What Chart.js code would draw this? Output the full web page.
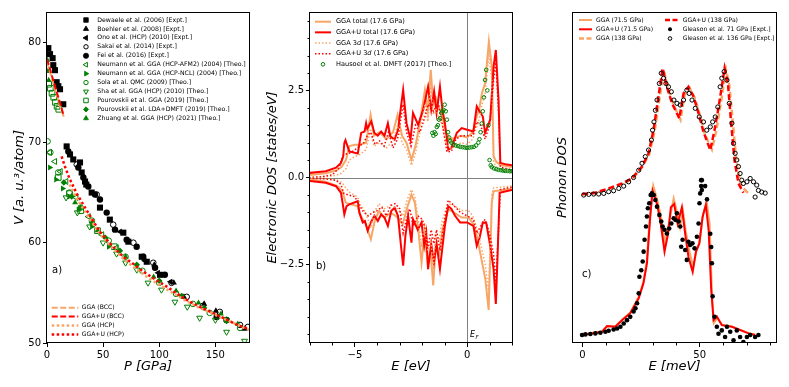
<!DOCTYPE html>
<html><head><meta charset="utf-8">
<script src="https://cdn.jsdelivr.net/npm/chart.js@4.4.1/dist/chart.umd.min.js"></script>
<style>
body{margin:0;background:#fff;width:789px;height:387px;overflow:hidden;position:relative}
canvas{position:absolute;top:0}
</style></head><body>
<canvas id="ca" width="262" height="387" style="left:0px"></canvas>
<canvas id="cb" width="265" height="387" style="left:262px"></canvas>
<canvas id="cc" width="262" height="387" style="left:527px"></canvas>
<script>
// ---------------- Panel a: equation of state ----------------
const dewP=[1.2,2.7,5.0,5.6,7.1,8.6,10.1,11.6,14.5,17.5,20.5,23.4,29.4,30.9,33.9,35,39.8,47.2,56,68,72.5,84.4,88.9,100.7];
const dewV=[79.4,78.8,78.4,77.7,77.2,76.0,75.6,75.3,73.8,69.6,68.8,68.3,68.0,67.0,66.1,65.8,65.0,63.5,62.3,61.0,60.1,58.6,58.1,56.8];
const boeP=[95.6,113,122,140,150.5,176];
const boeV=[57.8,56.0,54.6,53.9,53.2,51.4];
const onoP=[65,87,99,110];
const onoV=[61.1,58.2,57.0,56.1];
const sakP=[26.5,44.3,59,77,94.7,111,124.5,139,154,172,179];
const sakV=[67.8,64.8,61.8,60.0,58.0,56.0,54.6,53.7,53.1,51.8,51.6];
const feiP=[19,27.9,32.4,36.8,42.8,47.2,53.2,60.6,71,79.9,85.8,96.3,105,151.2,160];
const feiV=[69.1,67.5,66.5,65.6,64.8,64.3,63.0,61.3,60.3,59.6,58.6,57.5,56.8,52.6,52.3];
const nAfmP=[2.5,7,12,17,26,37,49,62];
const nAfmV=[69.0,68.1,67.1,66.1,64.5,62.6,60.8,59.5];
const nNclP=[2.5,8,14,20,28,40,55];
const nNclV=[67.5,66.3,65.4,64.6,63.3,61.6,59.6];
const solaP=[0.5,3,10,20,30,40,55,70,85,100,115,130,145,160,172];
const solaV=[70.1,69.0,67.0,65.0,63.5,62.2,60.2,58.6,57.2,56.0,54.9,53.9,53.0,52.3,51.5];
const shaP=[17,27,38,50,62,70,80,90,102,114,125,136,150,160,176];
const shaV=[64.5,63.0,61.6,60.0,58.9,58.0,57.3,56.0,55.3,54.1,53.6,52.5,52.3,51.1,50.2];
const pouGP=[1.5,3,4.5,6,7.5,9,10.5,10,20,30,45,60];
const pouGV=[75.8,75.4,74.9,74.5,74.0,73.6,73.3,66.5,64.9,63.2,61.2,59.6];
const pouDP=[15,22,30,40,52,65,80,100,120,140,160];
const pouDV=[66.0,64.6,63.5,62.0,60.5,59.2,57.8,56.2,54.7,53.5,52.2];
const zhuP=[0.3,0.8,1.5,25,45,70,95,115,135,155,170];
const zhuV=[78.2,77.1,76.2,64.0,61.2,58.6,56.6,55.2,54.0,52.9,51.9];
const ggaBccP=[0,3,6,9,12,15.5];
const ggaBccV=[78.0,76.9,75.7,74.6,73.5,72.4];
const ggauBccP=[0,3,6,9,12,14.5];
const ggauBccV=[78.3,77.2,76.0,74.9,73.8,72.8];
const ggaHcpP=[20,26,35,47,58,68,78,90,100,112,124,136,148,160,172,180];
const ggaHcpV=[65.8,64.5,62.9,60.9,59.5,58.4,57.5,56.5,55.8,55.0,54.2,53.5,52.9,52.3,51.7,51.3];
const ggauHcpP=[13,16,20,26.5,35,47,58,68,78,86,97,107,116,124.5,136,148,157,166,172,180];
const ggauHcpV=[68.6,67.6,66.4,64.9,63.3,61.1,59.7,58.6,57.8,57.1,56.3,55.6,54.9,54.3,53.6,53.0,52.5,52.0,51.7,51.4];
const eosXTicks=[0,50,100,150];
const eosYTicks=[50,60,70,80];

// ---------------- Panel b: electronic DOS ----------------
const upUE=[-7.04,-6.3,-5.84,-5.62,-5.52,-5.47,-5.42,-5.25,-4.87,-4.72,-4.57,-4.5,-4.45,-4.27,-4.13,-3.98,-3.83,-3.68,-3.53,-3.42,-3.23,-3.08,-2.85,-2.7,-2.52,-2.41,-2.18,-1.96,-1.74,-1.6,-1.47,-1.36,-1.21,-1.1,-0.99,-0.84,-0.7,-0.46,-0.24,0,0.28,0.43,0.55,0.7,0.8,1.03,1.18,1.28,1.4,1.48,1.78,2.0];
const upUD=[0.13,0.18,0.28,0.42,0.61,0.99,1.07,0.75,0.69,1.28,1.32,1.56,1.4,1.61,1.28,1.2,1.32,1.2,1.56,1.18,1.09,1.37,2.51,1.56,1.09,1.85,1.51,1.94,2.61,1.94,2.47,1.85,2.61,1.94,1.56,0.8,0.85,1.28,1.42,1.37,1.32,2.04,1.9,1.75,1.28,1.66,3.18,3.66,2.23,0.42,0.37,0.35];
const upGE=[-7.04,-6.3,-5.84,-5.6,-5.4,-5.25,-5.0,-4.8,-4.5,-4.3,-4.15,-3.9,-3.6,-3.3,-3.1,-2.9,-2.7,-2.48,-2.3,-2.1,-1.88,-1.75,-1.62,-1.51,-1.4,-1.25,-1.1,-0.95,-0.76,-0.5,-0.27,0,0.25,0.43,0.55,0.66,0.8,0.97,1.1,1.18,1.3,1.48,1.8,2.0];
const upGD=[0.07,0.12,0.2,0.3,0.5,0.9,0.94,0.94,1.0,1.8,1.2,1.3,1.1,1.3,1.8,1.2,1.0,0.51,0.9,1.6,2.51,1.9,3.09,2.1,2.3,2.0,1.8,1.3,1.09,1.15,1.2,1.15,1.3,1.75,2.0,2.42,2.7,3.9,3.18,0.61,0.45,0.36,0.32,0.3];
const upUdE=[-7.04,-6.5,-6.0,-5.7,-5.6,-5.5,-5.19,-4.89,-4.6,-4.45,-4.3,-4.1,-3.9,-3.7,-3.5,-3.3,-3.1,-2.85,-2.7,-2.5,-2.3,-2.1,-1.9,-1.74,-1.5,-1.3,-1.15,-0.99,-0.9,-0.7,-0.5,-0.25,0,0.25,0.43,0.6,0.8,1.0,1.18,1.28,1.4,1.48,1.8,2.0];
const upUdD=[0.0,0.02,0.08,0.28,0.51,0.65,0.71,0.85,1.0,1.2,1.3,0.95,1.05,0.9,1.3,0.85,1.1,2.1,1.3,0.9,1.5,1.3,1.7,2.1,1.9,2.15,1.7,1.1,0.73,0.75,1.1,1.2,1.2,1.2,1.6,1.5,1.1,1.5,2.8,3.3,1.9,0.3,0.25,0.22];
const upGdD=[0.0,0.02,0.06,0.12,0.25,0.5,0.6,0.65,0.8,1.4,0.9,1.0,0.85,1.05,1.5,1.0,0.8,0.35,0.7,1.3,2.1,1.6,2.6,1.8,2.0,1.7,1.5,1.0,0.85,0.9,1.0,0.95,1.1,1.45,1.7,2.1,2.4,3.5,2.8,0.45,0.3,0.22,0.18,0.16];
const dmftE=[-1.55,-1.5,-1.45,-1.4,-1.35,-1.3,-1.25,-1.2,-1.15,-1.1,-1.05,-1.0,-0.95,-0.9,-0.85,-0.8,-0.75,-0.7,-0.6,-0.5,-0.4,-0.3,-0.2,-0.1,0,0.1,0.2,0.3,0.4,0.5,0.55,0.6,0.65,0.7,0.75,0.8,0.85,0.9,0.95,1.0,1.05,1.1,1.2,1.3,1.4,1.5,1.6,1.7,1.8,1.9,2.0];
const dmftD=[1.28,1.2,1.3,1.25,1.45,1.5,1.66,1.7,1.85,1.9,1.94,2.09,1.9,1.66,1.3,1.15,1.05,1.0,0.95,0.92,0.9,0.88,0.87,0.86,0.85,0.86,0.87,0.88,0.92,1.0,1.1,1.3,1.55,1.9,2.3,2.8,3.09,2.5,1.5,0.5,0.35,0.3,0.26,0.24,0.22,0.21,0.2,0.19,0.19,0.18,0.18];
const dnUE=[-7.04,-6.3,-5.84,-5.62,-5.55,-5.47,-5.37,-5.25,-4.87,-4.8,-4.65,-4.55,-4.43,-4.3,-4.13,-3.98,-3.83,-3.68,-3.53,-3.38,-3.23,-3.08,-2.93,-2.85,-2.75,-2.63,-2.48,-2.41,-2.2,-2.03,-1.91,-1.82,-1.74,-1.6,-1.48,-1.36,-1.21,-1.1,-0.99,-0.84,-0.7,-0.54,-0.31,0,0.28,0.43,0.55,0.7,0.85,1.03,1.18,1.28,1.36,1.45,1.78,2.0];
const dnUD=[-0.1,-0.15,-0.25,-0.44,-0.72,-1.06,-0.82,-0.77,-0.68,-1.01,-1.29,-1.25,-1.53,-1.3,-1.1,-1.25,-1.06,-1.15,-1.39,-0.96,-0.87,-1.1,-2.06,-2.53,-1.68,-1.1,-1.87,-1.2,-1.5,-1.29,-1.96,-1.6,-2.63,-1.9,-2.44,-1.9,-2.63,-2.0,-1.39,-0.82,-0.9,-1.1,-1.29,-1.29,-1.39,-1.96,-1.75,-1.29,-1.3,-1.96,-2.63,-3.63,-2.2,-0.44,-0.39,-0.36];
const dnGE=[-7.04,-6.3,-5.78,-5.56,-5.41,-5.19,-4.89,-4.74,-4.52,-4.29,-4.1,-3.92,-3.7,-3.39,-3.1,-2.87,-2.65,-2.48,-2.33,-2.18,-2.03,-1.9,-1.75,-1.62,-1.51,-1.4,-1.25,-1.1,-0.84,-0.6,-0.24,0.06,0.25,0.43,0.58,0.81,0.96,1.1,1.18,1.48,1.8,2.0];
const dnGD=[-0.05,-0.12,-0.25,-0.39,-0.72,-0.77,-0.82,-1.1,-1.34,-1.77,-1.2,-0.96,-1.15,-1.01,-1.15,-1.34,-0.82,-0.49,-0.72,-1.49,-2.44,-1.6,-2.5,-2.2,-3.1,-2.0,-2.2,-1.5,-0.91,-1.0,-1.15,-1.15,-1.3,-1.68,-2.15,-2.91,-3.8,-0.72,-0.39,-0.37,-0.34,-0.33];
const dnUdE=[-7.04,-6.3,-5.84,-5.62,-5.5,-5.3,-5.0,-4.8,-4.6,-4.4,-4.2,-4.0,-3.8,-3.6,-3.4,-3.2,-3.0,-2.85,-2.7,-2.55,-2.4,-2.2,-2.0,-1.85,-1.74,-1.6,-1.48,-1.36,-1.21,-1.0,-0.84,-0.6,-0.3,0,0.28,0.43,0.6,0.8,1.0,1.18,1.28,1.4,1.48,1.8,2.0];
const dnUdD=[-0.02,-0.04,-0.08,-0.2,-0.45,-0.5,-0.55,-0.8,-1.0,-1.1,-1.0,-0.95,-0.85,-1.1,-0.8,-0.75,-0.9,-1.6,-1.2,-0.9,-1.4,-1.1,-1.2,-1.5,-2.0,-1.5,-1.9,-1.5,-2.1,-1.2,-0.65,-0.8,-1.0,-1.1,-1.2,-1.6,-1.4,-1.2,-1.6,-2.2,-3.0,-1.5,-0.35,-0.3,-0.28];
const dnGdD=[0.0,-0.03,-0.08,-0.15,-0.3,-0.45,-0.55,-0.8,-1.0,-1.45,-0.95,-0.75,-0.9,-0.8,-0.9,-1.1,-0.6,-0.35,-0.55,-1.2,-2.0,-1.3,-2.1,-1.8,-2.6,-1.6,-1.8,-1.2,-0.75,-0.8,-0.95,-0.95,-1.1,-1.45,-1.85,-2.5,-3.3,-0.5,-0.3,-0.28,-0.26,-0.25];
const dosXTicks=[-5,0];
const dosXMinor=[-7,-6,-4,-3,-2,-1,1,2];
const dosYTicks=[-2.5,0,2.5];
const dosYMinor=[-4.5,-4,-3.5,-3,-2,-1.5,-1,-0.5,0.5,1,1.5,2,3,3.5,4,4.5];

// ---------------- Panel c: phonon DOS ----------------
const phUlE=[-0.1,4.1,8.4,10.5,14,16.9,20.4,24,26,27.5,28.2,29,29.9,31.8,33.2,35,36.5,37.7,39.1,40.6,42.4,43.8,45.2,47,48.4,49.8,51.2,52.6,53.8,54.9,55.9,57.3,59.4,63.7,70.8,73.6];
const phUlY=[0.24,0.29,0.34,0.51,0.49,0.69,0.9,1.35,1.8,2.4,3.1,3.9,4.6,4.2,3.7,2.76,3.3,4.1,4.2,3.6,4.1,3.3,2.6,2.15,2.76,3.0,3.8,4.17,3.4,1.6,0.69,0.8,0.54,0.49,0.29,0.24];
const phGlE=[-0.1,4.1,8.4,10.5,14,16.9,20.4,24,26,27.5,28.5,30.2,32,33.5,35.2,36.8,38.9,40.2,41.6,42.8,44,45.5,47.2,48.6,50,51.4,53,54.2,55.2,56,57.5,59.6,63.7,70.8,73.6];
const phGlY=[0.25,0.3,0.35,0.5,0.5,0.7,0.92,1.4,1.85,2.5,3.6,4.75,4.3,3.8,3.0,3.6,4.37,4.0,3.5,4.0,3.4,2.8,2.3,2.8,3.05,3.9,4.25,3.6,1.5,0.6,0.75,0.55,0.5,0.3,0.25];
const phUhE=[-0.1,5.5,11.2,16.9,21.1,25.4,28.2,30.3,32.2,34.2,36,38.2,41.3,43.1,45.2,47.4,49.5,51.6,54.5,56.3,57.7,59.4,60.6,62,63.4,64.8,66.5,68.6];
const phUhY=[4.5,4.54,4.67,4.82,4.97,5.33,5.73,6.43,7.34,8.3,7.74,7.24,6.79,7.54,7.74,7.44,6.94,6.38,5.83,6.43,6.99,7.74,8.3,7.85,6.64,5.53,4.82,4.54];
const phGhE=[-0.1,5.5,11.2,16.9,21.1,25.4,28.5,30.8,32.7,34.6,36.5,38.8,41.8,43.6,45.7,47.9,50,52.2,55.2,57,58.3,60,61.2,62.6,64.2,65.6,67.5,71];
const phGhY=[4.48,4.52,4.65,4.8,4.95,5.3,5.7,6.4,7.3,8.25,7.7,7.2,6.75,7.5,7.7,7.4,6.9,6.3,5.85,6.4,6.95,7.7,8.25,7.8,6.6,5.5,4.75,4.5];
const gl71E=[-0.14,1.28,3.4,5.53,7.66,9.79,11.2,13.3,14.8,16.2,17.6,19.0,20.4,21.8,22.6,23.3,24.0,24.3,25.1,25.7,26.1,26.5,27.1,27.5,27.9,28.5,29.1,29.6,30.4,31.1,31.8,32.8,33.6,34.2,35.0,36.0,37.0,37.9,38.9,39.6,40.3,41.0,41.7,42.1,42.7,43.8,44.5,45.2,45.9,46.9,47.8,48.8,49.5,49.9,50.2,50.6,50.9,50.6,52.3,50.9,53.1,54.5,54.9,55.2,55.5,56.3,57.3,58.0,59.4,60.8,61.6,63.0,64.4,65.8,67.2,68.6,70.1,71.5,73.6,75.0];
const gl71Y=[0.24,0.26,0.27,0.29,0.31,0.34,0.37,0.41,0.44,0.49,0.59,0.69,0.79,0.95,1.05,1.2,1.5,2.0,2.2,2.46,2.76,3.12,3.52,3.82,4.07,4.22,4.47,4.52,4.47,4.32,4.12,3.87,3.67,3.52,3.42,3.31,3.46,3.61,3.77,3.72,3.92,3.67,3.52,2.91,3.12,2.81,2.51,3.06,2.96,3.01,2.86,3.21,3.61,4.22,4.52,4.92,4.92,4.74,4.74,4.62,4.34,3.3,2.9,2.41,1.41,0.79,0.49,0.28,0.38,0.18,0.49,0.34,0.08,0.38,0.18,0.03,0.18,0.24,0.18,0.24];
const gl136E=[0.57,2.7,4.8,6.95,9.1,11.2,13.3,15.5,17.6,19.7,21.8,24.0,25.4,26.8,28.2,29.4,29.9,30.5,31.1,31.8,32.8,33.6,34.6,35.6,36.7,37.9,39.0,40.3,41.7,43.1,44.5,45.5,46.7,48.1,49.8,51.6,53.0,54.5,55.5,56.6,57.7,58.7,59.4,60.4,61.6,62.6,63.7,64.4,65.1,65.8,66.5,67.2,67.9,68.6,70.1,71.5,72.9,74.3,75.0,76.4,77.9,73.6];
const gl136Y=[4.47,4.49,4.5,4.5,4.52,4.57,4.6,4.67,4.74,4.87,5.0,5.22,5.43,5.63,5.83,6.13,6.43,6.68,7.03,7.34,7.84,8.15,8.0,7.84,7.74,7.59,7.34,7.24,7.19,7.34,7.64,7.54,7.34,7.09,6.83,6.68,6.43,6.53,6.68,6.83,7.13,7.74,8.0,8.2,7.94,7.24,6.64,6.03,5.73,5.53,5.33,5.12,4.92,4.82,4.87,4.97,4.87,4.77,4.61,4.56,4.53,4.41];
const phXTicks=[0,50];
const phXMinor=[10,20,30,40,60,70,80];

// ---------------- helpers ----------------
const ORANGE='#F8A667', RED='#FF0000', GREEN='#008000', BLACK='#000000', NONE='rgba(0,0,0,0)';
const FONT='"DejaVu Sans", sans-serif';
Chart.defaults.font.family=FONT;
Chart.defaults.color='#000';
function pts(xs,ys){return xs.map((x,i)=>({x:x,y:ys[i]}));}
function sc(label,xs,ys,style,rot,r,fill,stroke,bw){
  return {label,data:pts(xs,ys),showLine:false,pointStyle:style,pointRotation:rot,pointRadius:r,
    pointBackgroundColor:fill,pointBorderColor:stroke,pointBorderWidth:bw};
}
function ln(label,xs,ys,color,w,dash){
  return {label,data:pts(xs,ys),showLine:true,pointRadius:0,borderColor:color,borderWidth:w,
    borderDash:dash||[],tension:0,fill:false,borderCapStyle:'butt'};
}
function ordered(list){list.forEach((d,i)=>d.order=-i);return list;}
const fmtNum=v=>(v<0?'\u2212':'')+String(Math.abs(v));
function axis(o){
  return {type:'linear',min:o.min,max:o.max,
    afterFit(s){ if(o.h!==undefined) s.height=o.h; if(o.w!==undefined) s.width=o.w; },
    afterBuildTicks(s){ s.ticks=(o.ticks||[]).map(v=>({value:v})); },
    grid:{display:o.noTicks?false:true,drawOnChartArea:false,drawTicks:true,tickLength:4,color:'#000',tickColor:'#000',lineWidth:1},
    border:{display:false},
    ticks:{display:o.noTicks?false:true,autoSkip:false,maxRotation:0,minRotation:0,padding:2,color:'#000',font:{size:10,family:FONT},callback:o.cb||fmtNum},
    title:{display:true,text:o.title,color:'#000',font:{size:13,style:'italic',family:FONT},padding:o.tpad}
  };
}
const framePlugin={id:'frame',afterDatasetsDraw(c){const a=c.chartArea,x=c.ctx;x.save();x.strokeStyle='#000';x.lineWidth=1;
  x.strokeRect(Math.round(a.left)-0.5,Math.round(a.top)+0.5,Math.round(a.right-a.left)+1,Math.round(a.bottom-a.top)-1);x.restore();}};
function minorTicks(xs,ys){return {id:'minor',afterDraw(c){const ctx=c.ctx,a=c.chartArea;ctx.save();ctx.strokeStyle='#000';ctx.lineWidth=1;ctx.beginPath();
  (xs||[]).forEach(v=>{const p=Math.round(c.scales.x.getPixelForValue(v))+0.5;ctx.moveTo(p,a.bottom);ctx.lineTo(p,a.bottom+2.5);});
  (ys||[]).forEach(v=>{const p=Math.round(c.scales.y.getPixelForValue(v))+0.5;ctx.moveTo(a.left,p);ctx.lineTo(a.left-2.5,p);});
  ctx.stroke();ctx.restore();}};}
function txt(ctx,x,y,parts,size){
  let cx=x;ctx.textBaseline='middle';ctx.textAlign='left';ctx.fillStyle='#000';
  for(const p of parts){ctx.font=(p[1]?'italic ':'')+size+'px '+FONT;ctx.fillText(p[0],cx,y);cx+=ctx.measureText(p[0]).width;}
}
function lgLine(ctx,x1,x2,y,color,w,dash){ctx.save();ctx.strokeStyle=color;ctx.lineWidth=w;ctx.setLineDash(dash||[]);ctx.beginPath();ctx.moveTo(x1,y);ctx.lineTo(x2,y);ctx.stroke();ctx.restore();}
function lgMark(ctx,x,y,style,rot,r,fill,stroke,bw){ctx.save();ctx.fillStyle=fill;ctx.strokeStyle=stroke;ctx.lineWidth=bw;
  Chart.helpers.drawPoint(ctx,{pointStyle:style,rotation:rot,radius:r,borderWidth:bw},x,y);ctx.restore();}
const baseOpts={responsive:false,animation:false,devicePixelRatio:1,events:[],
  plugins:{legend:{display:false},tooltip:{enabled:false}}};

// ---------------- Chart a ----------------
const legA=[
 ['Dewaele et al. (2006) [Expt.]','rect',0,3.2,BLACK,BLACK],
 ['Boehler et al. (2008) [Expt.]','triangle',0,3,BLACK,BLACK],
 ['Ono et al. (HCP) (2010) [Expt.]','triangle',-90,3,BLACK,BLACK],
 ['Sakai et al. (2014) [Expt.]','circle',0,2.2,NONE,BLACK],
 ['Fei et al. (2016) [Expt.]','circle',0,2.6,BLACK,BLACK],
 ['Neumann et al. GGA (HCP-AFM2) (2004) [Theo.]','triangle',-90,2.8,NONE,GREEN],
 ['Neumann et al. GGA (HCP-NCL) (2004) [Theo.]','triangle',90,2.8,GREEN,GREEN],
 ['Sola et al. QMC (2009) [Theo.]','circle',0,2.2,NONE,GREEN],
 ['Sha et al. GGA (HCP) (2010) [Theo.]','triangle',180,2.8,NONE,GREEN],
 ['Pourovskii et al. GGA (2019) [Theo.]','rect',0,3.2,NONE,GREEN],
 ['Pourovskii et al. LDA+DMFT (2019) [Theo.]','rectRot',0,2.6,GREEN,GREEN],
 ['Zhuang et al. GGA (HCP) (2021) [Theo.]','triangle',0,2.8,GREEN,GREEN]
];
const legA2=[['GGA (BCC)',ORANGE,2,[6,2.5]],['GGA+U (BCC)',RED,2,[6,2.5]],['GGA (HCP)',ORANGE,2.5,[2.5,2.5]],['GGA+U (HCP)',RED,2.5,[2.5,2.5]]];
const decoA={id:'decoA',afterDraw(c){const ctx=c.ctx;
  legA.forEach((e,i)=>{const y=20+i*8.94;lgMark(ctx,86,y,e[1],e[2],e[3],e[4],e[5],e[4]===NONE?1:0.8);txt(ctx,97.3,y,[[e[0],false]],6.2);});
  legA2.forEach((e,i)=>{const y=307.7+i*8.9;lgLine(ctx,51.7,78.3,y,e[1],e[2],e[3]);txt(ctx,81.7,y,[[e[0],false]],6.1);});
  txt(ctx,52,270,[['a)',false]],10);
}};
new Chart(document.getElementById('ca'),{type:'scatter',
 data:{datasets:ordered([
  sc('Dewaele',dewP,dewV,'rect',0,4.3,BLACK,BLACK,0),
  sc('Boehler',boeP,boeV,'triangle',0,3.6,BLACK,BLACK,0),
  sc('Ono',onoP,onoV,'triangle',-90,3.6,BLACK,BLACK,0),
  sc('Sakai',sakP,sakV,'circle',0,2.8,NONE,BLACK,1),
  sc('Fei',feiP,feiV,'circle',0,3.2,BLACK,BLACK,0),
  sc('NeumannAFM2',nAfmP,nAfmV,'triangle',-90,3.4,NONE,GREEN,1),
  sc('NeumannNCL',nNclP,nNclV,'triangle',90,3.4,GREEN,GREEN,0),
  sc('Sola',solaP,solaV,'circle',0,2.8,NONE,GREEN,1),
  sc('Sha',shaP,shaV,'triangle',180,3.4,NONE,GREEN,1),
  sc('PourovskiiGGA',pouGP,pouGV,'rect',0,4.0,NONE,GREEN,1),
  sc('PourovskiiDMFT',pouDP,pouDV,'rectRot',0,3.2,GREEN,GREEN,0),
  sc('Zhuang',zhuP,zhuV,'triangle',0,3.4,GREEN,GREEN,0),
  ln('GGA (BCC)',ggaBccP,ggaBccV,ORANGE,2,[6,2.5]),
  ln('GGA+U (BCC)',ggauBccP,ggauBccV,RED,2,[6,2.5]),
  ln('GGA (HCP)',ggaHcpP,ggaHcpV,ORANGE,2.5,[2.5,2.5]),
  ln('GGA+U (HCP)',ggauHcpP,ggauHcpV,RED,2.5,[2.5,2.5])
 ])},
 options:Object.assign({},baseOpts,{layout:{padding:{left:0,right:13,top:12,bottom:0}},
  scales:{
   x:axis({min:0,max:180,ticks:eosXTicks,h:44,title:'P [GPa]',tpad:{bottom:13}}),
   y:axis({min:50,max:83,ticks:eosYTicks,w:47,title:'V [a. u.\u00B3/atom]',tpad:{top:12}})
  }}),
 plugins:[framePlugin,decoA]
});

// ---------------- Chart b ----------------
const zeroLines={id:'zeroLines',beforeDatasetsDraw(c){const ctx=c.ctx,a=c.chartArea,xs=c.scales.x,ys=c.scales.y;
  const x0=Math.round(xs.getPixelForValue(0))+0.5,y0=Math.round(ys.getPixelForValue(0))+0.5;
  ctx.save();ctx.strokeStyle='#808080';ctx.lineWidth=1;ctx.beginPath();
  ctx.moveTo(x0,a.top);ctx.lineTo(x0,a.bottom);ctx.moveTo(a.left,y0);ctx.lineTo(a.right,y0);ctx.stroke();ctx.restore();}};
const decoB={id:'decoB',afterDraw(c){const ctx=c.ctx;const y0=21.7,dy=10.65;
  lgLine(ctx,53,69,y0,ORANGE,2);txt(ctx,74,y0,[['GGA total (17.6 GPa)',false]],6.6);
  lgLine(ctx,53,69,y0+dy,RED,2);txt(ctx,74,y0+dy,[['GGA+U total (17.6 GPa)',false]],6.6);
  lgLine(ctx,53,69,y0+2*dy,ORANGE,1.5,[1.5,2]);txt(ctx,74,y0+2*dy,[['GGA 3',false],['d',true],[' (17.6 GPa)',false]],6.6);
  lgLine(ctx,53,69,y0+3*dy,RED,1.5,[1.5,2]);txt(ctx,74,y0+3*dy,[['GGA+U 3',false],['d',true],[' (17.6 GPa)',false]],6.6);
  lgMark(ctx,61,y0+4*dy,'circle',0,1.8,NONE,GREEN,1);txt(ctx,74,y0+4*dy,[['Hausoel et al. DMFT (2017) [Theo.]',false]],6.6);
  txt(ctx,54,266,[['b)',false]],10);
  const xe=c.scales.x.getPixelForValue(0)+3;
  txt(ctx,xe,335,[['E',true]],8);txt(ctx,xe+5.3,337.5,[['F',true]],5.5);
}};
new Chart(document.getElementById('cb'),{type:'scatter',
 data:{datasets:ordered([
  ln('GGA total up',upGE,upGD,ORANGE,2),
  ln('GGA+U total up',upUE,upUD,RED,2),
  ln('GGA 3d up',upGE,upGdD,ORANGE,1.5,[1.5,2]),
  ln('GGA+U 3d up',upUdE,upUdD,RED,1.5,[1.5,2]),
  ln('GGA total dn',dnGE,dnGD,ORANGE,2),
  ln('GGA+U total dn',dnUE,dnUD,RED,2),
  ln('GGA 3d dn',dnGE,dnGdD,ORANGE,1.5,[1.5,2]),
  ln('GGA+U 3d dn',dnUdE,dnUdD,RED,1.5,[1.5,2]),
  sc('Hausoel DMFT',dmftE,dmftD,'circle',0,1.8,NONE,GREEN,1)
 ])},
 options:Object.assign({},baseOpts,{layout:{padding:{left:0,right:15,top:12,bottom:0}},
  scales:{
   x:axis({min:-7,max:2,ticks:dosXTicks,h:44,title:'E [eV]',tpad:{bottom:13}}),
   y:axis({min:-4.75,max:4.75,ticks:dosYTicks,w:48,cb:v=>(v<0?'\u2212':'')+Math.abs(v).toFixed(1),title:'Electronic DOS [states/eV]',tpad:{top:3}})
  }}),
 plugins:[zeroLines,framePlugin,minorTicks(dosXMinor,dosYMinor),decoB]
});

// ---------------- Chart c ----------------
const decoC={id:'decoC',afterDraw(c){const ctx=c.ctx;const ys=[20,29.3,38.5];
  lgLine(ctx,52,65,ys[0],ORANGE,2);txt(ctx,69,ys[0],[['GGA (71.5 GPa)',false]],6.1);
  lgLine(ctx,52,65,ys[1],RED,2);txt(ctx,69,ys[1],[['GGA+U (71.5 GPa)',false]],6.1);
  lgLine(ctx,52,65,ys[2],ORANGE,2.5,[5,2.5]);txt(ctx,69,ys[2],[['GGA (138 GPa)',false]],6.1);
  lgLine(ctx,138,151,ys[0],RED,2.5,[5,2.5]);txt(ctx,155.7,ys[0],[['GGA+U (138 GPa)',false]],6.1);
  lgMark(ctx,143,ys[1],'circle',0,2,BLACK,BLACK,0);txt(ctx,155.7,ys[1],[['Gleason et al. 71 GPa [Expt.]',false]],6.1);
  lgMark(ctx,143,ys[2],'circle',0,1.8,NONE,BLACK,1);txt(ctx,155.7,ys[2],[['Gleason et al. 136 GPa [Expt.]',false]],6.1);
  txt(ctx,55,274,[['c)',false]],10);
}};
new Chart(document.getElementById('cc'),{type:'scatter',
 data:{datasets:ordered([
  ln('GGA (71.5 GPa)',phGlE,phGlY,ORANGE,2),
  ln('GGA+U (71.5 GPa)',phUlE,phUlY,RED,2),
  ln('GGA (138 GPa)',phGhE,phGhY,ORANGE,2.5,[6,3]),
  ln('GGA+U (138 GPa)',phUhE,phUhY,RED,2.5,[6,3]),
  sc('Gleason 71',gl71E,gl71Y,'circle',0,2.3,BLACK,BLACK,0),
  sc('Gleason 136',gl136E,gl136Y,'circle',0,2.1,NONE,BLACK,1)
 ])},
 options:Object.assign({},baseOpts,{layout:{padding:{left:0,right:13,top:12,bottom:0}},
  scales:{
   x:axis({min:-4,max:82.5,ticks:phXTicks,h:44,title:'E [meV]',tpad:{bottom:13}}),
   y:axis({min:0,max:10,ticks:[],w:46,noTicks:true,cb:v=>'',title:'Phonon DOS',tpad:{top:28}})
  }}),
 plugins:[framePlugin,minorTicks(phXMinor,null),decoC]
});
</script>
</body></html>
